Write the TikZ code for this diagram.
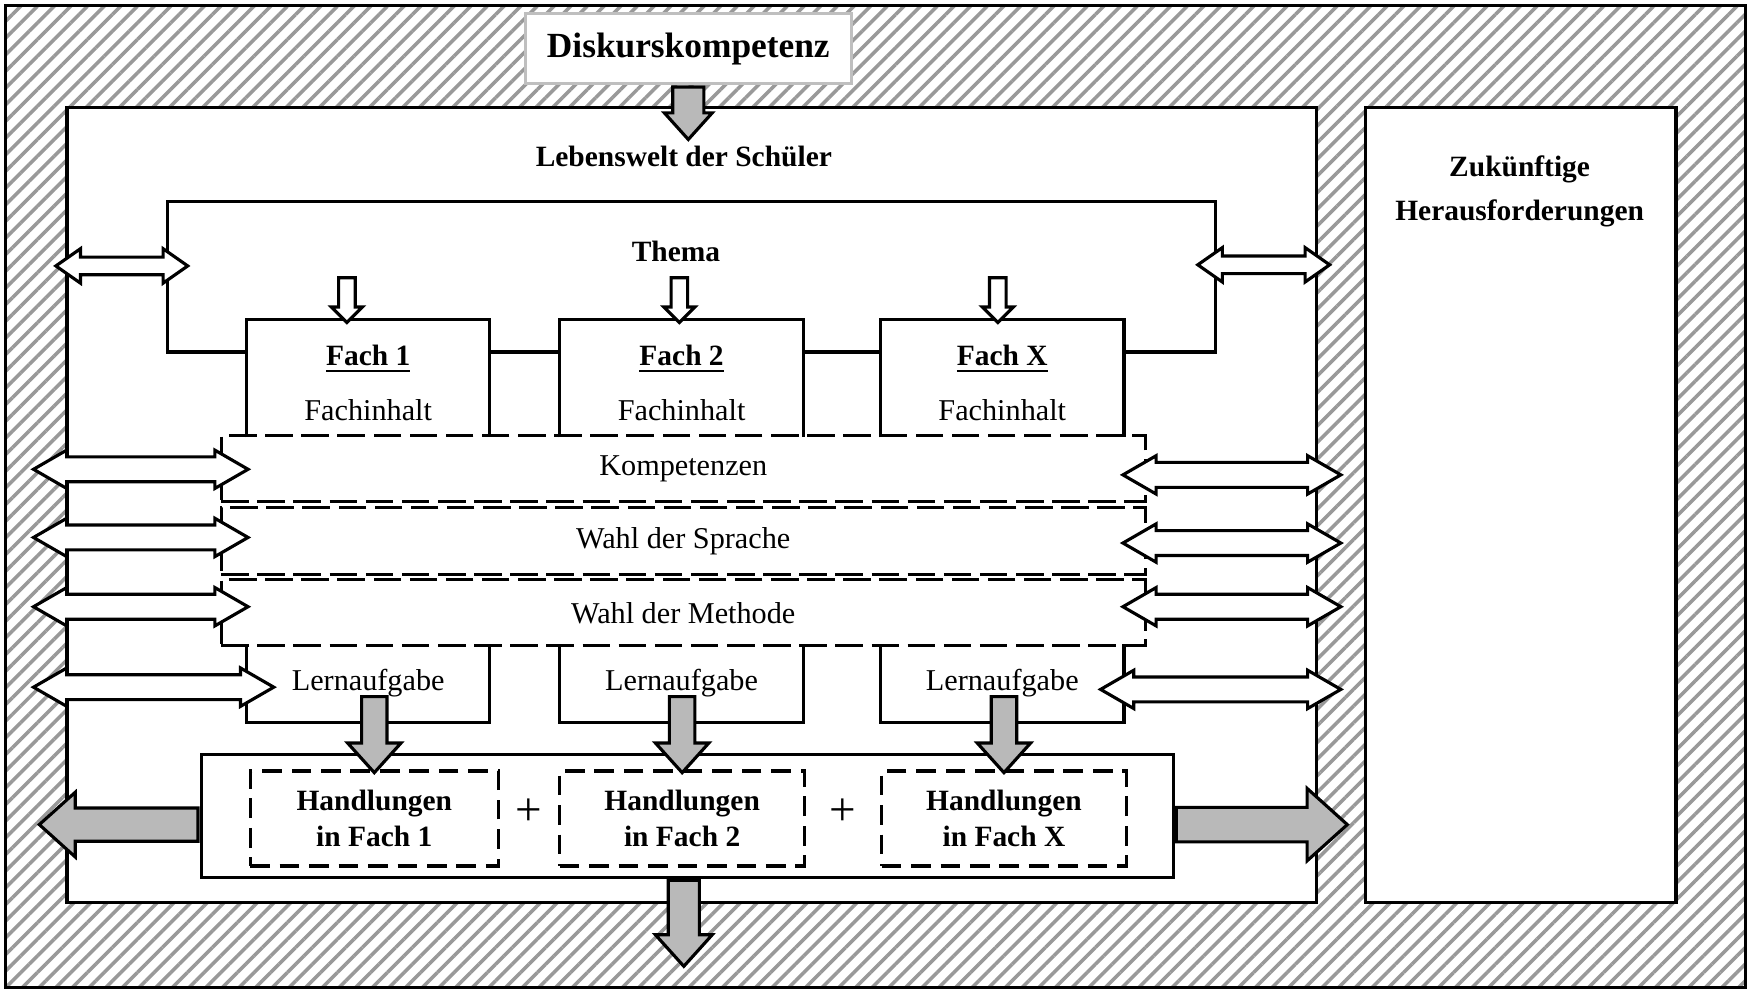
\documentclass[tikz,border=0pt]{standalone}
\usepackage{fontspec}
\setmainfont{Liberation Serif}
\usetikzlibrary{shapes.arrows,patterns.meta}

\newcommand{\plainlab}{\normalfont\fontsize{7.7}{9}\selectfont}
\newcommand{\boldlab}{\normalfont\fontsize{7.5}{9}\selectfont\bfseries}
\newcommand{\disklab}{\normalfont\fontsize{9}{11}\selectfont\bfseries}
\newcommand{\pluslab}{\normalfont\fontsize{12}{12}\selectfont}

\begin{document}
\begin{tikzpicture}[line width=0.8pt,
	plainbox/.style = {rectangle, draw, fill=white, inner sep=0pt},
	fachbox/.style = {rectangle, inner sep=0pt, minimum width=2.15cm, align=center},
	rowbox/.style = {rectangle, draw, dash pattern=on 7pt off 2.2pt, inner sep=0pt, minimum width=8.27cm, font=\plainlab},
	handbox/.style = {rectangle, draw, dash pattern=on 5pt off 2.5pt, inner sep=0pt, minimum width=2.22cm, minimum height=0.85cm, align=center, font=\boldlab},
	greyarrow/.style = {single arrow, draw, fill=gray!55, inner xsep=0pt, single arrow tip angle=84},
	whitearrow/.style = {single arrow, draw, fill=white, inner xsep=0pt, single arrow tip angle=90},
	twoway/.style = {double arrow, draw, fill=white, inner xsep=0pt, inner ysep=0.0975cm, minimum width=0.31cm, double arrow head extend=0.06cm, double arrow tip angle=60}
]
	\useasboundingbox (0,0) rectangle (15.68,-8.89);

	% hatched background
	\node (frame) at (7.835,-4.445)	[rectangle, draw, inner sep=0pt, minimum width=15.57cm, minimum height=8.79cm, pattern={Lines[angle=45,distance=3pt,line width=0.9pt]}, pattern color=black!40]	{};

	\node (disk) at (6.16,-0.435)	[plainbox, draw=black!25, minimum width=2.92cm, minimum height=0.63cm, font=\disklab]	{Diskurskompetenz};
	\node (main) at (6.19,-4.52)	[plainbox, minimum width=11.18cm, minimum height=7.12cm]	{};
	\node (future) at (13.61,-4.52)	[plainbox, minimum width=2.78cm, minimum height=7.12cm]	{};
	\node (futurelab) at (13.60,-1.71)	[align=center, font=\boldlab]	{Zukünftige\\[0.8mm]Herausforderungen};
	\node (leben) at (6.12,-1.40)	[font=\boldlab]	{Lebenswelt der Schüler};
	\node (thema) at (6.05,-2.25)	[font=\boldlab]	{Thema};

	% subjects
	\node (fach1) at (3.295,-3.385)	[fachbox, minimum height=1.03cm]	{\boldlab\rule{0pt}{2.6mm}\underline{Fach 1}\\[0.7mm]\plainlab Fachinhalt};
	\node (fach2) at (6.10,-3.385)	[fachbox, minimum height=1.03cm]	{\boldlab\rule{0pt}{2.6mm}\underline{Fach 2}\\[0.7mm]\plainlab Fachinhalt};
	\node (fachX) at (8.97,-3.385)	[fachbox, minimum height=1.03cm]	{\boldlab\rule{0pt}{2.6mm}\underline{Fach X}\\[0.7mm]\plainlab Fachinhalt};
	\node (lern1) at (3.295,-6.115)	[fachbox, minimum height=0.67cm, font=\plainlab]	{Lernaufgabe};
	\node (lern2) at (6.10,-6.115)	[fachbox, minimum height=0.67cm, font=\plainlab]	{Lernaufgabe};
	\node (lernX) at (8.97,-6.115)	[fachbox, minimum height=0.67cm, font=\plainlab]	{Lernaufgabe};
	\foreach \f in {fach1,fach2,fachX}
		\draw (\f.south west) -- (\f.north west) -- (\f.north east) -- (\f.south east);
	\foreach \l in {lern1,lern2,lernX}
		\draw (\l.north west) -- (\l.south west) -- (\l.south east) -- (\l.north east);

	% frame round the topic
	\coordinate (topleft) at (1.50,-1.80);
	\coordinate (topright) at (10.88,-1.80);
	\draw ([yshift=2.35mm]fach1.west) -| (topleft) -- (topright) |- ([yshift=2.35mm]fachX.east);
	\draw ([yshift=2.35mm]fach1.east) -- ([yshift=2.35mm]fach2.west);
	\draw ([yshift=2.35mm]fach2.east) -- ([yshift=2.35mm]fachX.west);

	% dashed rows
	\node (komp) at (6.115,-4.195)	[rowbox, minimum height=0.59cm]	{Kompetenzen};
	\node (sprache) at (6.115,-4.84)	[rowbox, minimum height=0.60cm]	{Wahl der Sprache};
	\node (methode) at (6.115,-5.485)	[rowbox, minimum height=0.59cm]	{Wahl der Methode};

	% actions
	\node (hand) at (6.15,-7.30)	[plainbox, minimum width=8.70cm, minimum height=1.10cm]	{};
	\node (hand1) at (3.35,-7.325)	[handbox]	{Handlungen\\in Fach 1};
	\node (hand2) at (6.105,-7.325)	[handbox, minimum width=2.19cm]	{Handlungen\\in Fach 2};
	\node (handX) at (8.985,-7.325)	[handbox, minimum width=2.19cm]	{Handlungen\\in Fach X};
	\node (plus1) at (4.73,-7.27)	[font=\pluslab]	{+};
	\node (plus2) at (7.545,-7.27)	[font=\pluslab]	{+};

	% grey arrows
	\node (diskarrow) at (disk.south)	[greyarrow, rotate=-90, anchor=tail, inner ysep=0.125cm, minimum height=0.47cm, minimum width=0.40cm, single arrow head extend=0.075cm]	{};
	\foreach \h in {hand1,hand2,handX}
		\node (\h arrow) at ([yshift=-0.5mm]\h.north)	[greyarrow, rotate=-90, anchor=tip, inner ysep=0.10cm, minimum height=0.68cm, minimum width=0.45cm, single arrow head extend=0.125cm]	{};
	\node (leftout) at ([yshift=-0.8mm]hand.west)	[greyarrow, rotate=180, anchor=tail, inner ysep=0.135cm, minimum height=1.42cm, minimum width=0.55cm, single arrow head extend=0.14cm]	{};
	\node (rightout) at ([yshift=-0.8mm]hand.east)	[greyarrow, anchor=tail, inner ysep=0.14cm, minimum height=1.53cm, minimum width=0.62cm, single arrow head extend=0.17cm]	{};
	\node (downout) at ([xshift=-0.3mm]hand.south)	[greyarrow, rotate=-90, anchor=tail, inner ysep=0.125cm, minimum height=0.77cm, minimum width=0.48cm, single arrow head extend=0.115cm]	{};

	% white arrows into the subjects
	\node (fach1in) at ([xshift=-1.9mm,yshift=-0.5mm]fach1.north)	[whitearrow, rotate=-90, anchor=tip, inner ysep=0.06cm, minimum height=0.40cm, minimum width=0.25cm, single arrow head extend=0.065cm]	{};
	\node (fach2in) at ([xshift=-0.2mm,yshift=-0.5mm]fach2.north)	[whitearrow, rotate=-90, anchor=tip, inner ysep=0.06cm, minimum height=0.40cm, minimum width=0.25cm, single arrow head extend=0.065cm]	{};
	\node (fachXin) at ([xshift=-0.4mm,yshift=-0.5mm]fachX.north)	[whitearrow, rotate=-90, anchor=tip, inner ysep=0.06cm, minimum height=0.40cm, minimum width=0.25cm, single arrow head extend=0.065cm]	{};

	% exchange with the outside
	\node (themaL) at (1.09,-2.38)	[twoway, inner ysep=0.065cm, minimum height=1.18cm, minimum width=0.28cm, double arrow head extend=0.075cm, double arrow tip angle=70]	{};
	\node (themaR) at (11.31,-2.37)	[twoway, inner ysep=0.065cm, minimum height=1.18cm, minimum width=0.28cm, double arrow head extend=0.075cm, double arrow tip angle=70]	{};
	\node (kompL) at (1.26,-4.20)	[twoway, minimum height=1.92cm]	{};
	\node (kompR) at (11.025,-4.25)	[twoway, minimum height=1.95cm]	{};
	\node (spracheL) at (1.26,-4.81)	[twoway, minimum height=1.92cm]	{};
	\node (spracheR) at (11.025,-4.86)	[twoway, minimum height=1.95cm]	{};
	\node (methodeL) at (1.26,-5.43)	[twoway, minimum height=1.92cm]	{};
	\node (methodeR) at (11.025,-5.43)	[twoway, minimum height=1.95cm]	{};
	\node (lernL) at (1.375,-6.15)	[twoway, minimum height=2.15cm]	{};
	\node (lernR) at (10.925,-6.17)	[twoway, minimum height=2.15cm]	{};
\end{tikzpicture}
\end{document}
